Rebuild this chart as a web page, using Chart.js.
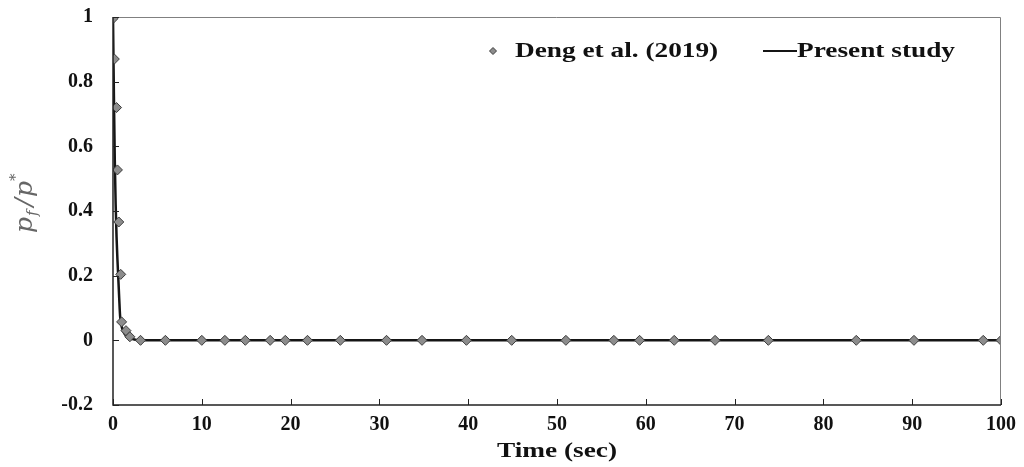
<!DOCTYPE html>
<html>
<head>
<meta charset="utf-8">
<style>
    html, body { margin: 0; padding: 0; background: #fff; }
    #wrap { width: 1024px; height: 467px; position: relative; }
</style>
<script src="https://cdn.jsdelivr.net/npm/chart.js@4.4.1/dist/chart.umd.min.js"></script>
</head>
<body>
<div id="wrap"><canvas id="pressure"></canvas></div>
<script>
// values
var dengTime = [0, 0.15, 0.4, 0.5, 0.65, 0.87, 0.97, 1.46, 1.9, 3.1, 5.9, 10.0, 12.6, 14.9, 17.7, 19.4, 21.9,
    25.6, 30.8, 34.8, 39.8, 44.9, 51.0, 56.4, 59.3, 63.2, 67.8, 73.8, 83.7, 90.2, 98.0, 100];
var dengValue = [0.995, 0.87, 0.72, 0.527, 0.366, 0.204, 0.057, 0.03, 0.011, 0, 0, 0, 0, 0, 0, 0, 0,
    0, 0, 0, 0, 0, 0, 0, 0, 0, 0, 0, 0, 0, 0, 0];

var presentTime = [0, 0.05, 0.1, 0.2, 0.3, 0.4, 0.5, 0.6, 0.7, 0.8, 1.0, 1.3, 1.7, 2.2, 3.0, 5.0, 100];
var presentValue = [1, 0.88, 0.76, 0.56, 0.42, 0.32, 0.25, 0.19, 0.13, 0.075, 0.04, 0.02, 0.01, 0.004, 0, 0, 0];

var xTickStep = 10;
var yTickStep = 0.2;
var xTitle = 'Time (sec)';

(function () {
    'use strict';

    var serif = '"Liberation Serif", "Times New Roman", serif';

    function toPoints(xs, ys) {
        var pts = [];
        xs.forEach(function (x, i) {
            pts.push({x: x, y: ys[i]});
        });
        return pts;
    }

    function tickText(value) {
        var v = Math.round(value * 10) / 10;
        if (Math.abs(v) < 1e-9) {
            return '0';
        }
        return String(v);
    }

    // text stretched sideways like the original figure
    function wideText(ctx, text, x, y, stretch) {
        ctx.save();
        ctx.translate(x, y);
        ctx.scale(stretch, 1);
        ctx.fillText(text, 0, 0);
        ctx.restore();
    }

    // frame, inward ticks, legend and axis titles
    var decorations = {
        id: 'decorations',
        afterDatasetsDraw: function (chart) {
            var ctx = chart.ctx;
            var area = chart.chartArea;
            var xs = chart.scales.x;
            var ys = chart.scales.y;

            ctx.save();
            ctx.lineWidth = 1;
            ctx.strokeStyle = '#808080';
            ctx.beginPath();
            ctx.moveTo(area.left, area.top + 0.5);
            ctx.lineTo(area.right - 0.5, area.top + 0.5);
            ctx.lineTo(area.right - 0.5, area.bottom);
            ctx.stroke();

            ctx.strokeStyle = '#222';
            ctx.lineWidth = 1.5;
            ctx.beginPath();
            ctx.moveTo(area.left, area.top);
            ctx.lineTo(area.left, area.bottom);
            ctx.lineTo(area.right, area.bottom);
            ctx.stroke();

            ctx.lineWidth = 1;
            ctx.beginPath();
            ys.ticks.forEach(function (t) {
                var py = Math.round(ys.getPixelForValue(t.value)) + 0.5;
                ctx.moveTo(area.left, py);
                ctx.lineTo(area.left + 6, py);
            });
            xs.ticks.forEach(function (t) {
                var px = Math.round(xs.getPixelForValue(t.value)) + 0.5;
                ctx.moveTo(px, area.bottom);
                ctx.lineTo(px, area.bottom - 6);
            });
            ctx.stroke();

            // legend
            var dsDeng = chart.data.datasets[0];
            var dsPresent = chart.data.datasets[1];
            var ly = 51;
            ctx.font = 'bold 21px ' + serif;
            ctx.textBaseline = 'middle';

            ctx.beginPath();
            ctx.moveTo(493, ly - 3.5);
            ctx.lineTo(496.5, ly);
            ctx.lineTo(493, ly + 3.5);
            ctx.lineTo(489.5, ly);
            ctx.closePath();
            ctx.fillStyle = dsDeng.backgroundColor;
            ctx.fill();
            ctx.strokeStyle = dsDeng.borderColor;
            ctx.stroke();
            ctx.fillStyle = '#111';
            wideText(ctx, dsDeng.label, 515, ly + 1, 1.3);

            ctx.strokeStyle = dsPresent.borderColor;
            ctx.lineWidth = 2;
            ctx.beginPath();
            ctx.moveTo(763, ly);
            ctx.lineTo(797, ly);
            ctx.stroke();
            wideText(ctx, dsPresent.label, 797, ly + 1, 1.3);

            // x axis title
            ctx.font = 'bold 21px ' + serif;
            var tw = ctx.measureText(xTitle).width * 1.3;
            wideText(ctx, xTitle, (area.left + area.right) / 2 - tw / 2, 452, 1.3);

            // y axis title  p_f / p^*
            ctx.translate(32, 205);
            ctx.rotate(-Math.PI / 2);
            ctx.fillStyle = '#666';
            ctx.textBaseline = 'alphabetic';
            var x0 = -28;
            ctx.font = 'italic 25px "DejaVu Serif", serif';
            ctx.fillText('p', x0, 0);
            x0 += ctx.measureText('p').width + 1;
            ctx.font = 'italic 15px "DejaVu Serif", serif';
            ctx.fillText('f', x0, 5);
            x0 += ctx.measureText('f').width + 4;
            ctx.font = 'italic 25px "DejaVu Serif", serif';
            ctx.fillText('/', x0, 0);
            x0 += ctx.measureText('/').width + 1;
            ctx.fillText('p', x0, 0);
            x0 += ctx.measureText('p').width;
            ctx.font = '15px "DejaVu Serif", serif';
            ctx.fillText('*', x0, -12);
            ctx.restore();
        }
    };

    var el = document.getElementById('pressure');

    new Chart(el, {
        type: 'scatter',
        data: {
            datasets: [
                {
                    label: 'Deng et al. (2019)',
                    data: toPoints(dengTime, dengValue),
                    showLine: false,
                    pointStyle: 'rectRot',
                    pointRadius: 5,
                    pointBorderWidth: 1,
                    backgroundColor: '#8c8c8c',
                    borderColor: '#3c3c3c',
                    order: 0
                },
                {
                    label: 'Present study',
                    data: toPoints(presentTime, presentValue),
                    showLine: true,
                    cubicInterpolationMode: 'monotone',
                    pointRadius: 0,
                    borderWidth: 2.5,
                    borderColor: '#151515',
                    backgroundColor: '#151515',
                    order: 1
                }
            ]
        },
        options: {
            responsive: true,
            maintainAspectRatio: false,
            animation: false,
            layout: {padding: {left: 0, right: 22, top: 17, bottom: 0}},
            plugins: {
                legend: {display: false},
                tooltip: {enabled: false}
            },
            scales: {
                x: {
                    type: 'linear',
                    min: 0,
                    max: 100,
                    grid: {display: false, drawTicks: false},
                    border: {display: false},
                    ticks: {
                        stepSize: xTickStep,
                        padding: 8,
                        color: '#111',
                        font: {family: serif, size: 20, weight: 'bold'},
                        callback: tickText
                    },
                    afterFit: function (scale) {
                        scale.height = 62;
                    }
                },
                y: {
                    min: -0.2,
                    max: 1,
                    grid: {display: false, drawTicks: false},
                    border: {display: false},
                    ticks: {
                        stepSize: yTickStep,
                        padding: 20,
                        color: '#111',
                        font: {family: serif, size: 20, weight: 'bold'},
                        callback: tickText
                    },
                    afterFit: function (scale) {
                        scale.width = 113;
                        scale.paddingTop = 0;
                        scale.paddingBottom = 0;
                    }
                }
            }
        },
        plugins: [decorations]
    });
})();
</script>
</body>
</html>
